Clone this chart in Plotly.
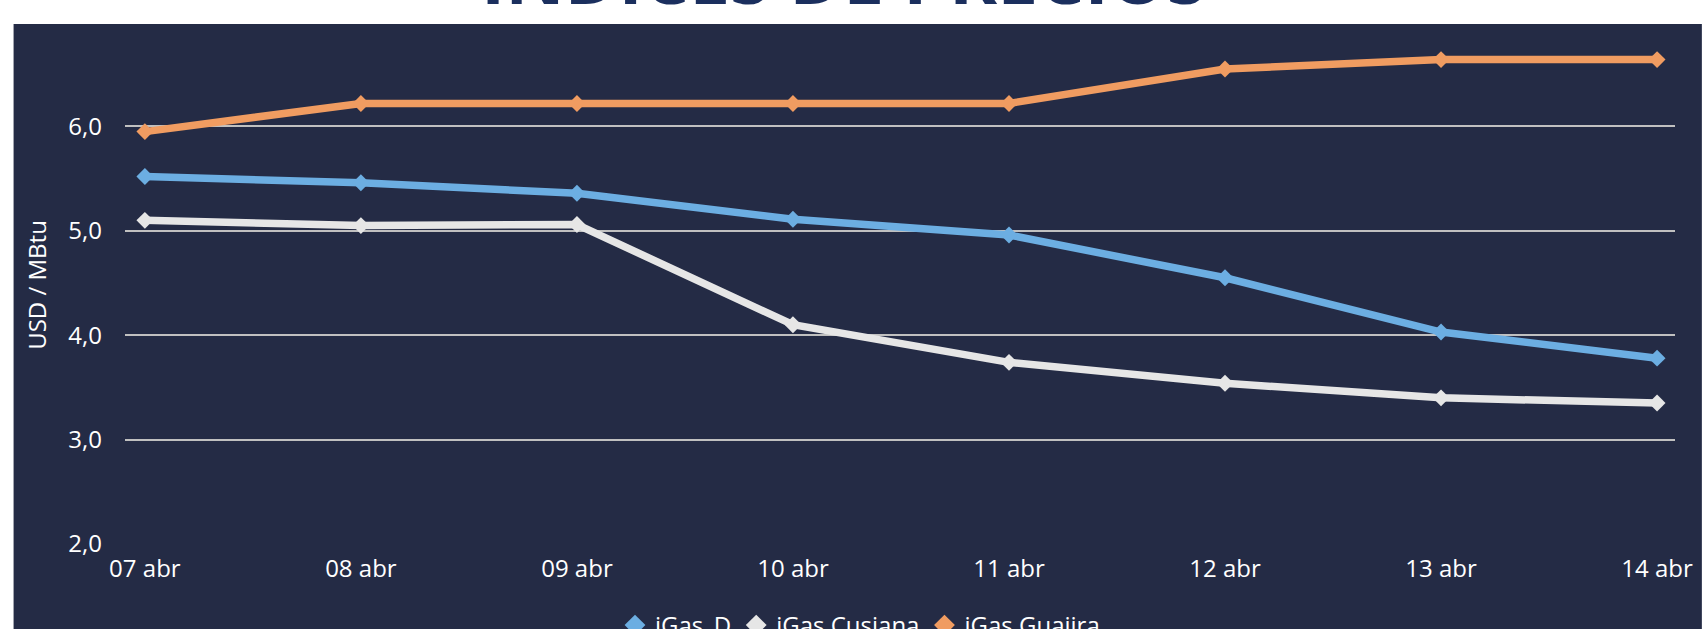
import plotly.graph_objects as go

categories = ["07 abr", "08 abr", "09 abr", "10 abr", "11 abr", "12 abr", "13 abr", "14 abr"]
igas_d = [5.52, 5.46, 5.36, 5.11, 4.96, 4.55, 4.03, 3.78]
igas_cusiana = [5.10, 5.05, 5.06, 4.10, 3.74, 3.54, 3.40, 3.35]
igas_guajira = [5.95, 6.22, 6.22, 6.22, 6.22, 6.55, 6.64, 6.64]
y_ticks = [2, 3, 4, 5, 6]
y_tick_labels = ["2,0", "3,0", "4,0", "5,0", "6,0"]

series = [
    ("iGas_D", igas_d, "#6caee2"),
    ("iGas Cusiana", igas_cusiana, "#e6e6e6"),
    ("iGas Guajira", igas_guajira, "#f09c61"),
]

W, H = 1705, 629
L, R, T, B = 125, 22, 26, 85
BG = "#242b45"
FONT = "Open Sans"
FS = 24

fig = go.Figure()
for name, vals, col in series:
    fig.add_trace(go.Scatter(
        x=categories, y=vals, name=name, mode="lines+markers",
        line=dict(color=col, width=7.5),
        marker=dict(symbol="diamond", size=13, color=col),
        showlegend=False, legendgroup=name,
    ))
for name, vals, col in series:
    # legend entry shows the diamond marker only
    fig.add_trace(go.Scatter(
        x=[None], y=[None], name=name, mode="markers",
        marker=dict(symbol="diamond", size=18, color=col),
        showlegend=True, legendgroup=name,
    ))

pw = W - L - R
ph = H - T - B


def px_x(p):
    return (p - L) / pw


def px_y(p):
    return (H - B - p) / ph


fig.add_shape(type="rect", xref="paper", yref="paper",
              x0=px_x(13), x1=px_x(W + 5), y0=px_y(H + 5), y1=px_y(24),
              fillcolor=BG, line=dict(width=0), layer="below")

fig.add_annotation(text="<b>ÍNDICES DE PRECIOS</b>", xref="paper", yref="paper",
                   x=px_x(848), y=px_y(27), xanchor="center", yanchor="bottom",
                   showarrow=False, font=dict(family=FONT, size=73, color="#1b2f5e"))

fig.update_layout(
    width=W, height=H,
    margin=dict(l=L, r=R, t=T, b=B, pad=0),
    paper_bgcolor="white", plot_bgcolor=BG,
    font=dict(family=FONT, size=FS, color="white"),
    showlegend=True,
    legend=dict(orientation="h", xref="container", x=860 / W, xanchor="center",
                yref="container", y=1 - 603 / H, yanchor="top",
                font=dict(size=FS, color="white"),
                bgcolor="rgba(0,0,0,0)", itemwidth=30, tracegroupgap=0),
    xaxis=dict(type="category", range=[-0.092, 7.083], showgrid=False,
               showline=False, ticks="", tickfont=dict(size=FS, color="white"),
               zeroline=False, ticklabelstandoff=8),
    yaxis=dict(range=[2, 2 + ph / 104.4], tickvals=y_ticks, ticktext=y_tick_labels,
               showgrid=True, gridcolor="#c0c0c0", gridwidth=2, zeroline=False,
               tickfont=dict(size=FS, color="white"), ticks="", ticklabelstandoff=22,
               title=dict(text="USD / MBtu", font=dict(size=FS, color="white"), standoff=14)),
)

fig.write_html("out.html", config={"displayModeBar": False},
               post_script="document.body.style.margin='0';document.body.style.overflow='hidden';")
